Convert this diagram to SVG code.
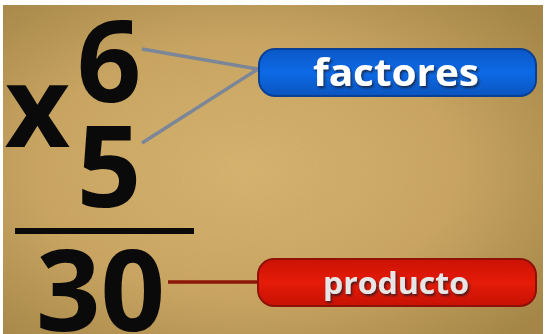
<svg xmlns="http://www.w3.org/2000/svg" width="545" height="334" viewBox="0 0 545 334">
  <defs>
    <radialGradient id="paper" cx="0.45" cy="0.5" r="0.7">
      <stop offset="0" stop-color="#d9b670"/>
      <stop offset="0.55" stop-color="#cca762"/>
      <stop offset="1" stop-color="#a58646"/>
    </radialGradient>
    <linearGradient id="blueFill" x1="0" y1="0" x2="0" y2="1">
      <stop offset="0" stop-color="#0a58c8"/>
      <stop offset="0.5" stop-color="#0d6ae6"/>
      <stop offset="1" stop-color="#0a55c0"/>
    </linearGradient>
    <linearGradient id="redFill" x1="0" y1="0" x2="0" y2="1">
      <stop offset="0" stop-color="#cc1205"/>
      <stop offset="0.5" stop-color="#e51b08"/>
      <stop offset="1" stop-color="#c81204"/>
    </linearGradient>
    <filter id="noise" x="0" y="0" width="100%" height="100%">
      <feTurbulence type="fractalNoise" baseFrequency="0.9" numOctaves="2" seed="3" result="n"/>
      <feColorMatrix in="n" type="matrix" values="0 0 0 0 0.35  0 0 0 0 0.25  0 0 0 0 0.1  0 0 0 0.18 0"/>
    </filter>
    <filter id="shadow" x="-10%" y="-20%" width="130%" height="150%">
      <feDropShadow dx="1.5" dy="2" stdDeviation="1" flood-color="#1a1a2a" flood-opacity="0.75"/>
    </filter>
  </defs>
  <style>
    .digit { font-family: "Open Sans", "Liberation Sans", sans-serif; font-weight: 700; font-size: 113px; fill: #0a0a0a; text-anchor: middle; }
    .label { font-family: "Open Sans", "Liberation Sans", sans-serif; font-weight: 700; text-anchor: middle; }
    .conn-gray { stroke: #7b8698; stroke-width: 3.5; stroke-linecap: butt; fill: none; }
    .conn-red { stroke: #8c1608; stroke-width: 3.5; fill: none; }
  </style>

  <rect x="0" y="0" width="545" height="334" fill="#ffffff"/>
  <rect x="3" y="5" width="540" height="329" fill="url(#paper)"/>
  <rect x="3" y="5" width="540" height="329" filter="url(#noise)"/>

  <g id="connectors">
    <line class="conn-gray" x1="142" y1="49" x2="258" y2="69"/>
    <line class="conn-gray" x1="142" y1="143" x2="258" y2="69"/>
    <line class="conn-red" x1="168" y1="282" x2="260" y2="282"/>
  </g>

  <g id="multiplication">
    <text class="digit" x="109" y="102">6</text>
    <text class="digit" x="37.5" y="147" font-size="102">x</text>
    <text class="digit" x="109" y="207">5</text>
    <rect x="15" y="228" width="179" height="6" fill="#0a0a0a"/>
    <text class="digit" x="100.5" y="331">30</text>
  </g>

  <g id="factores">
    <rect x="258" y="48" width="279" height="49" rx="17" fill="#0a3f96"/>
    <rect x="260" y="50" width="275" height="45" rx="15" fill="url(#blueFill)"/>
    <text class="label" x="396" y="86" font-size="38" fill="#ffffff" filter="url(#shadow)" textLength="166" lengthAdjust="spacingAndGlyphs">factores</text>
  </g>

  <g id="producto">
    <rect x="257" y="258" width="280" height="49" rx="17" fill="#8e1006"/>
    <rect x="259" y="260" width="276" height="45" rx="15" fill="url(#redFill)"/>
    <text class="label" x="396" y="294" font-size="31" fill="#e6e6e6" filter="url(#shadow)" textLength="146" lengthAdjust="spacingAndGlyphs">producto</text>
  </g>
</svg>
